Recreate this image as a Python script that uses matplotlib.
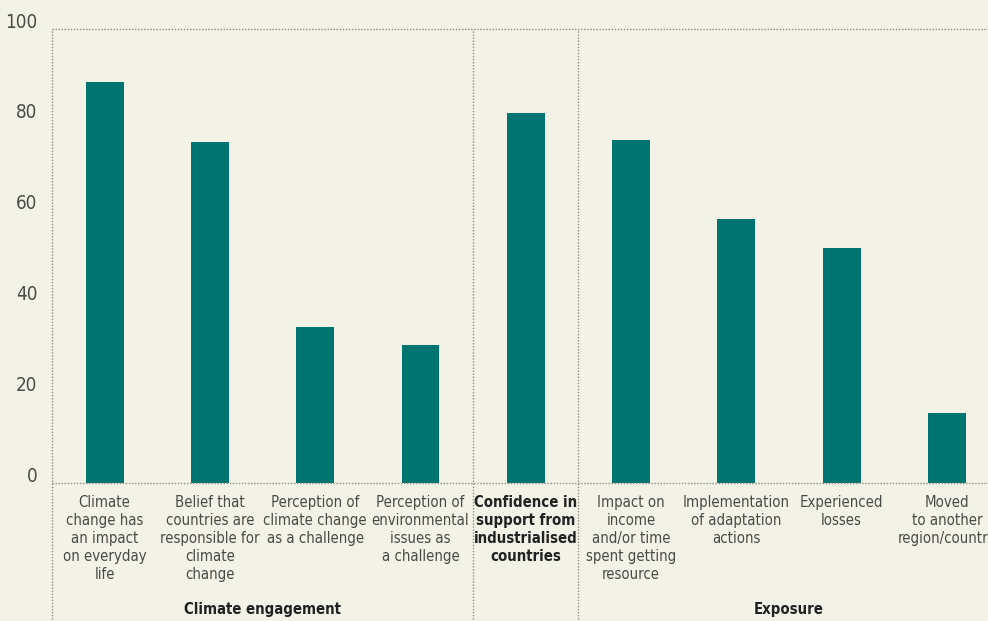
import matplotlib

matplotlib.use("Agg")
import matplotlib.pyplot as plt
from matplotlib import font_manager
from matplotlib.font_manager import FontProperties

# data
categories = [
    "Climate\nchange has\nan impact\non everyday\nlife",
    "Belief that\ncountries are\nresponsible for\nclimate\nchange",
    "Perception of\nclimate change\nas a challenge",
    "Perception of\nenvironmental\nissues as\na challenge",
    "Confidence in\nsupport from\nindustrialised\ncountries",
    "Impact on\nincome\nand/or time\nspent getting\nresource",
    "Implementation\nof adaptation\nactions",
    "Experienced\nlosses",
    "Moved\nto another\nregion/country",
]
values = [88.4, 75.2, 34.4, 30.4, 81.5, 75.6, 58.2, 51.8, 15.5]
bold_cats = [4]
groups = ["Climate engagement", "Exposure"]
group_centers = [1.5, 6.5]
dividers = [3.5, 4.5]
yticks = [0, 20, 40, 60, 80, 100]


def _is_condensed(f):
    return ("narrow" in f.name.lower() or "condensed" in f.name.lower()
            or f.stretch in ("condensed", "semi-condensed", 600, 700)
            or "condensed" in str(f.fname).lower())


def _is_bold(f):
    w = f.weight
    return w == "bold" or (isinstance(w, int) and w >= 600)


fonts = font_manager.fontManager.ttflist
cond = [f for f in fonts if _is_condensed(f) and "oblique" not in str(f.fname).lower()
        and f.style == "normal"]
cond_reg = [f for f in cond if not _is_bold(f)]
cond_bold = [f for f in cond if _is_bold(f)]

reg_fp = FontProperties(fname=cond_reg[0].fname) if cond_reg else FontProperties(family="DejaVu Sans")
if cond_bold:
    bold_fp = FontProperties(fname=cond_bold[0].fname)
    BOLD = 10.7
else:
    bold_fp = FontProperties(family="DejaVu Sans", weight="bold")
    BOLD = 9.8
LAB = 10.7

BG = "#f3f2e7"
BAR = "#007470"
DOT = "#8c8c84"

fig = plt.figure(figsize=(9.88, 6.21), dpi=100, facecolor=BG)
ax = fig.add_axes([52 / 988, 1 - 483 / 621, 1 - 52 / 988, 454 / 621])
ax.set_facecolor(BG)

xs = list(range(len(values)))
ax.bar(xs, values, width=0.36, color=BAR, zorder=3)

ax.set_xlim(-0.5, 8.39)
ax.set_ylim(0, 100)
for s in ax.spines.values():
    s.set_visible(False)
ax.set_xticks([])
ax.set_yticks([])

dot = dict(color=DOT, linestyle=(0, (1, 1.2)), linewidth=1.0, clip_on=False)
ax.axhline(100, **dot)
ax.axhline(0, zorder=4, **dot)
ax.axvline(-0.5, ymin=-0.31, ymax=1, **dot)
for d in dividers:
    ax.axvline(d, ymin=-0.31, ymax=1, **dot)

for v in yticks:
    ax.text(-0.64, v + 1.5, str(v), ha="right", va="center",
            fontproperties=reg_fp, fontsize=13.5, color="#4a4a46")

for i, lab in enumerate(categories):
    bold = i in bold_cats
    ax.text(i, -2.6, lab, ha="center", va="top",
            fontproperties=bold_fp if bold else reg_fp,
            fontsize=BOLD if bold else LAB,
            linespacing=1.25 * LAB / (BOLD if bold else LAB),
            color="#222222" if bold else "#4a4a46", clip_on=False)

for g, c in zip(groups, group_centers):
    ax.text(c, -27.9, g, ha="center", va="center", fontproperties=bold_fp,
            fontsize=BOLD, color="#222222", clip_on=False)

fig.savefig("out.png", dpi=100, facecolor=BG)
